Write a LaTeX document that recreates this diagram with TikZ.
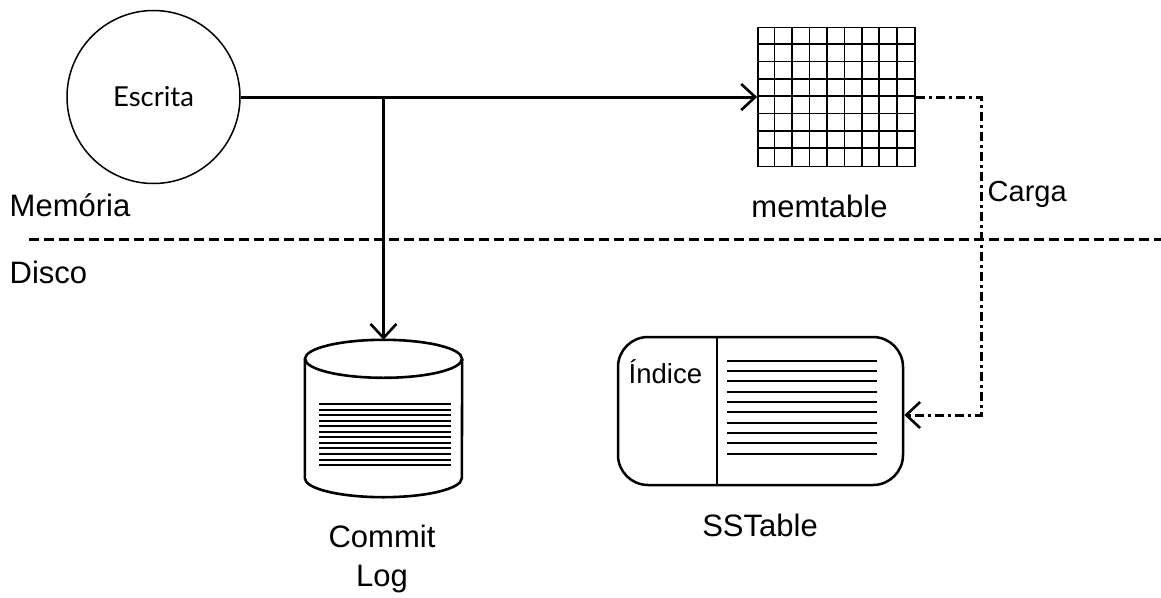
\documentclass[tikz,border=0pt]{standalone}
\usepackage{fontspec}
\setmainfont{Liberation Sans}
\newfontfamily\latofont{Lato}
\usetikzlibrary{arrows.meta,calc}

\begin{document}
\begin{tikzpicture}[x=1pt,y=-1pt,
  lbl/.style={font=\fontsize{31}{39}\selectfont, inner sep=0pt},
  flow/.style={line width=3pt, -{Straight Barb[length=14pt,width=26pt,line width=2.6pt]}},
  divider/.style={line width=3pt, dash pattern=on 10pt off 5pt},
  gridline/.style={line width=1.7pt},
  cyl/.style={line width=2.6pt},
  rule/.style={line width=2pt},
]
\useasboundingbox (0,0) rectangle (1161,597);

% write request
\node[draw, circle, line width=1.5pt, minimum size=173pt, inner sep=0pt,
      font=\latofont\fontsize{27.5}{30}\selectfont] (escrita) at (153.5,97) {Escrita};

% memtable grid (9 columns x 8 rows)
\node[draw, gridline, minimum width=157pt, minimum height=139pt, inner sep=0pt] (memtable) at (836.5,97) {};
\foreach \i in {1,...,8}
  \draw[gridline] ($(memtable.north west)+(\i*17.444,0)$) -- ($(memtable.south west)+(\i*17.444,0)$);
\foreach \j in {1,...,7}
  \draw[gridline] ($(memtable.north west)+(0,\j*17.375)$) -- ($(memtable.north east)+(0,\j*17.375)$);
\node[lbl, anchor=base] (memtablelbl) at (819.5,217) {memtable};

% commit log cylinder
\node[minimum width=157pt, minimum height=157pt, inner sep=0pt] (commitlog) at (383.5,418.5) {};
\draw[cyl] ($(commitlog.north west)+(0,19)$) -- ($(commitlog.south west)+(0,-19)$)
  arc[start angle=180, end angle=360, x radius=78.5pt, y radius=19pt]
  -- ($(commitlog.north east)+(0,19)$);
\draw[cyl] ($(commitlog.north)+(0,19)$) ellipse [x radius=78.5pt, y radius=19pt];
\foreach \k in {0,...,11}
  \draw[rule] ($(commitlog.north west)+(14,64.3+\k*5.545)$) -- ++(132,0);
\node[lbl, align=center, anchor=north] (commitlbl) at (382,525) {Commit\\Log};

% SSTable
\node[draw, line width=2.5pt, rounded corners=30pt, minimum width=285pt, minimum height=148pt,
      inner sep=0pt] (sstable) at (760.5,411) {};
\draw[gridline] ($(sstable.north west)+(100,0)$) -- ($(sstable.south west)+(100,0)$);
\foreach \k in {0,...,9}
  \draw[rule] ($(sstable.north west)+(110,25+\k*10.33)$) -- ++(150,0);
\node[lbl, font=\fontsize{27.5}{30}\selectfont, anchor=base west] (indice) at (628.5,383) {Índice};
\node[lbl, anchor=base] (sstablelbl) at (760,536) {SSTable};

% memory / disk boundary
\coordinate (sepL) at (29,239);
\coordinate (sepR) at (1161,239);
\draw[divider] (sepL) -- (sepR);
\node[lbl, anchor=base west] (memlbl) at (9.5,216) {Memória};
\node[lbl, anchor=base west] (disklbl) at (9.5,283) {Disco};

% write path
\coordinate (branch) at (commitlog.north |- escrita.east);
\draw[flow] (escrita.east) -- (memtable.west);
\draw[flow] (branch) -- (commitlog.north);

% flush path
\coordinate (turn) at (981,415);
\draw[line width=3pt, dash pattern=on 9pt off 4pt on 3pt off 4pt,
      -{Straight Barb[length=14pt,width=26pt,line width=2.6pt]}]
  (memtable.east) -| (turn) -- (sstable.east |- turn);
\node[lbl, font=\fontsize{29}{34}\selectfont, anchor=base west] (cargalbl) at (987.5,201) {Carga};
\end{tikzpicture}
\end{document}
